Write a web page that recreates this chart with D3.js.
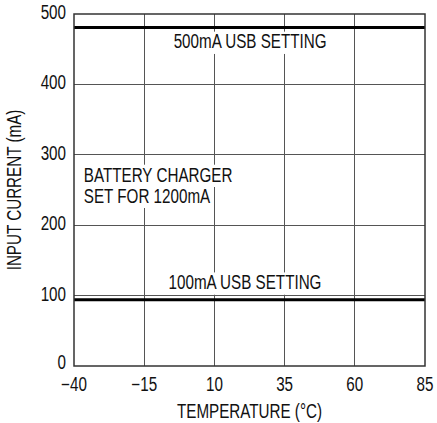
<!DOCTYPE html>
<html><head><meta charset="utf-8">
<script src="https://cdn.jsdelivr.net/npm/d3@7"></script>
<style>
body{margin:0;background:#fff;}
text{font-family:"Liberation Sans",Arial,sans-serif;fill:#111;}
</style></head>
<body><svg id="c" width="437" height="423"></svg>
<script>
const temperature = [-40, -15, 10, 35, 60, 85];
const usb500 = [481, 481, 481, 481, 481, 481];
const usb100 = [94, 94, 94, 94, 94, 94];
const xTicks = [-40, -15, 10, 35, 60, 85];
const yTicks = [0, 100, 200, 300, 400, 500];
const annotations = [
  {lines:["500mA USB SETTING"], t:22.7, v:451, anchor:"middle"},
  {lines:["100mA USB SETTING"], t:20.9, v:109, anchor:"middle"},
  {lines:["BATTERY CHARGER","SET FOR 1200mA"], t:-36.5, v:262, anchor:"start"}
];

const m = {l:74, r:425, t:14, b:366};
const FS = 19.5, SX = 0.78;
const svg = d3.select("#c");
const x = d3.scaleLinear().domain([-40,85]).range([m.l,m.r]);
const y = d3.scaleLinear().domain([0,500]).range([m.b,m.t]);

function label(parent, px, py, str, anchor, rot){
  return parent.append("text")
    .attr("transform",`translate(${px},${py})${rot?` rotate(${rot})`:""} scale(${SX},1)`)
    .attr("text-anchor",anchor).attr("font-size",FS).text(str);
}

// grid
svg.append("g").selectAll("line").data(xTicks.slice(1,-1)).join("line")
  .attr("x1",d=>x(d)).attr("x2",d=>x(d)).attr("y1",m.t).attr("y2",m.b)
  .attr("stroke","#555").attr("stroke-width",1).attr("shape-rendering","crispEdges");
svg.append("g").selectAll("line").data(yTicks.slice(1,-1)).join("line")
  .attr("x1",m.l).attr("x2",m.r).attr("y1",d=>y(d)).attr("y2",d=>y(d))
  .attr("stroke","#555").attr("stroke-width",1).attr("shape-rendering","crispEdges");

// annotations with white backgrounds
annotations.forEach(a=>{
  const g = svg.append("g");
  a.lines.forEach((ln,i)=>{
    const px = x(a.t), py = y(a.v)+i*21;
    const t = label(g, px, py, ln, a.anchor);
    const bb = t.node().getBBox();
    const w = bb.width*SX;
    const x0 = a.anchor==="middle" ? px - w/2 : px;
    g.insert("rect","text").attr("x",x0-3).attr("y",py+bb.y+1).attr("width",w+6).attr("height",bb.height).attr("fill","#fff");
  });
});

// lines
const line = d3.line().x((d,i)=>x(temperature[i])).y(d=>y(d));
svg.append("path").datum(usb500).attr("d",line).attr("fill","none").attr("stroke","#000").attr("stroke-width",3);
svg.append("path").datum(usb100).attr("d",line).attr("fill","none").attr("stroke","#000").attr("stroke-width",3);

// frame
svg.append("rect").attr("x",m.l).attr("y",m.t).attr("width",m.r-m.l).attr("height",m.b-m.t)
  .attr("fill","none").attr("stroke","#333").attr("stroke-width",1.5);

// tick labels
const fmt = d=> d<0 ? "\u2212"+Math.abs(d) : String(d);
const gx = svg.append("g");
xTicks.forEach(d=>label(gx, x(d), m.b+25, fmt(d), "middle"));
const gy = svg.append("g");
yTicks.forEach(d=>label(gy, m.l-8, y(d)+(d===0?3:5), fmt(d), "end"));

// axis titles
label(svg, (m.l+m.r)/2, 418, "TEMPERATURE (°C)", "middle");
label(svg, 21, (m.t+m.b)/2, "INPUT CURRENT (mA)", "middle", -90);
</script></body></html>
